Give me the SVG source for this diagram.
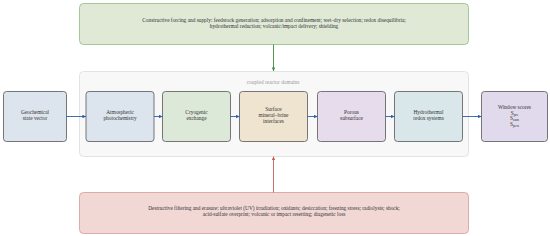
<svg xmlns="http://www.w3.org/2000/svg" width="550" height="236" viewBox="0 0 550 236">
<defs>
<style>
text{font-family:"Liberation Serif","DejaVu Serif",serif;font-size:5.35px;fill:#333;text-anchor:middle}
.node{stroke:#555;stroke-width:0.8}
.lbl{fill:#999}
.conn{fill:none;stroke-width:0.9}
</style>
<marker id="ab" viewBox="0 0 10 10" refX="10" refY="5" markerWidth="4" markerHeight="4" orient="auto"><path d="M0,0L10,5L0,10z" fill="#2e5fa8"/></marker>
<marker id="ag" viewBox="0 0 10 10" refX="10" refY="5" markerWidth="4" markerHeight="4" orient="auto"><path d="M0,0L10,5L0,10z" fill="#3f8a3f"/></marker>
<marker id="ar" viewBox="0 0 10 10" refX="10" refY="5" markerWidth="4" markerHeight="4" orient="auto"><path d="M0,0L10,5L0,10z" fill="#c4605a"/></marker>
</defs>
<rect width="550" height="236" fill="#fff"/>
<g id="cluster">
<rect x="79.5" y="71.5" width="389" height="85" rx="4" fill="#f8f8f8" stroke="#ddd" stroke-width="0.8"/>
<text class="lbl" x="273" y="84">coupled reactor domains</text>
</g>
<g id="forcing">
<rect x="79.5" y="3.5" width="389" height="41" rx="4" fill="#dfe9d6" stroke="#8fbe84" stroke-width="0.8"/>
<text x="274" y="22">Constructive forcing and supply: feedstock generation; adsorption and confinement; wet–dry selection; redox disequilibria;</text>
<text x="274" y="27.5">hydrothermal reduction; volcanic/impact delivery; shielding</text>
</g>
<g id="erasure">
<rect x="79.5" y="192.5" width="389" height="41" rx="4" fill="#f2d8d5" stroke="#d79c96" stroke-width="0.8"/>
<text x="274" y="210">Destructive filtering and erasure: ultraviolet (UV) irradiation; oxidants; desiccation; freezing stress; radiolysis; shock;</text>
<text x="274" y="215.5">acid-sulfate overprint; volcanic or impact resetting; diagenetic loss</text>
</g>
<g id="n0">
<rect class="node" x="3.5" y="91.5" width="63" height="50" rx="3" fill="#dce4ee"/>
<text x="35" y="114">Geochemical</text>
<text x="35" y="120">state vector</text>
</g>
<g id="n1">
<rect class="node" x="86" y="91.5" width="68" height="50" rx="3" fill="#dce4ee"/>
<text x="120" y="114">Atmospheric</text>
<text x="120" y="120">photochemistry</text>
</g>
<g id="n2">
<rect class="node" x="162.5" y="91.5" width="68" height="50" rx="3" fill="#dde9d8"/>
<text x="196.5" y="114">Cryogenic</text>
<text x="196.5" y="120">exchange</text>
</g>
<g id="n3">
<rect class="node" x="239.5" y="91.5" width="68" height="50" rx="3" fill="#efe4cf"/>
<text x="273.5" y="111">Surface</text>
<text x="273.5" y="117">mineral–brine</text>
<text x="273.5" y="123">interfaces</text>
</g>
<g id="n4">
<rect class="node" x="317.5" y="91.5" width="68" height="50" rx="3" fill="#e6dcec"/>
<text x="351.5" y="114">Porous</text>
<text x="351.5" y="120">subsurface</text>
</g>
<g id="n5">
<rect class="node" x="394.5" y="91.5" width="68" height="50" rx="3" fill="#d9e6ea"/>
<text x="428.5" y="114">Hydrothermal</text>
<text x="428.5" y="120">redox systems</text>
</g>
<g id="n6">
<rect class="node" x="481.5" y="91.5" width="66" height="50" rx="3" fill="#e1d9ec"/>
<text x="514.5" y="109">Window scores</text>
<text x="514.5" y="114.5">S<tspan font-size="3.7" dy="1">pre</tspan></text>
<text x="514.5" y="120">S<tspan font-size="3.7" dy="1">asm</tspan></text>
<text x="514.5" y="125.5">S<tspan font-size="3.7" dy="1">pers</tspan></text>
</g>
<g id="connectors">
<path class="conn" stroke="#2e5fa8" marker-end="url(#ab)" d="M66.5,116.5H86"/>
<path class="conn" stroke="#2e5fa8" marker-end="url(#ab)" d="M154,116.5H162.5"/>
<path class="conn" stroke="#2e5fa8" marker-end="url(#ab)" d="M230.5,116.5H239.5"/>
<path class="conn" stroke="#2e5fa8" marker-end="url(#ab)" d="M307.5,116.5H317.5"/>
<path class="conn" stroke="#2e5fa8" marker-end="url(#ab)" d="M385.5,116.5H394.5"/>
<path class="conn" stroke="#2e5fa8" marker-end="url(#ab)" d="M462.5,116.5H481.5"/>
<path class="conn" stroke="#3f8a3f" marker-end="url(#ag)" d="M273.5,44.5V71"/>
<path class="conn" stroke="#c4605a" marker-end="url(#ar)" d="M273.5,192.5V156.5"/>
</g>
</svg>
